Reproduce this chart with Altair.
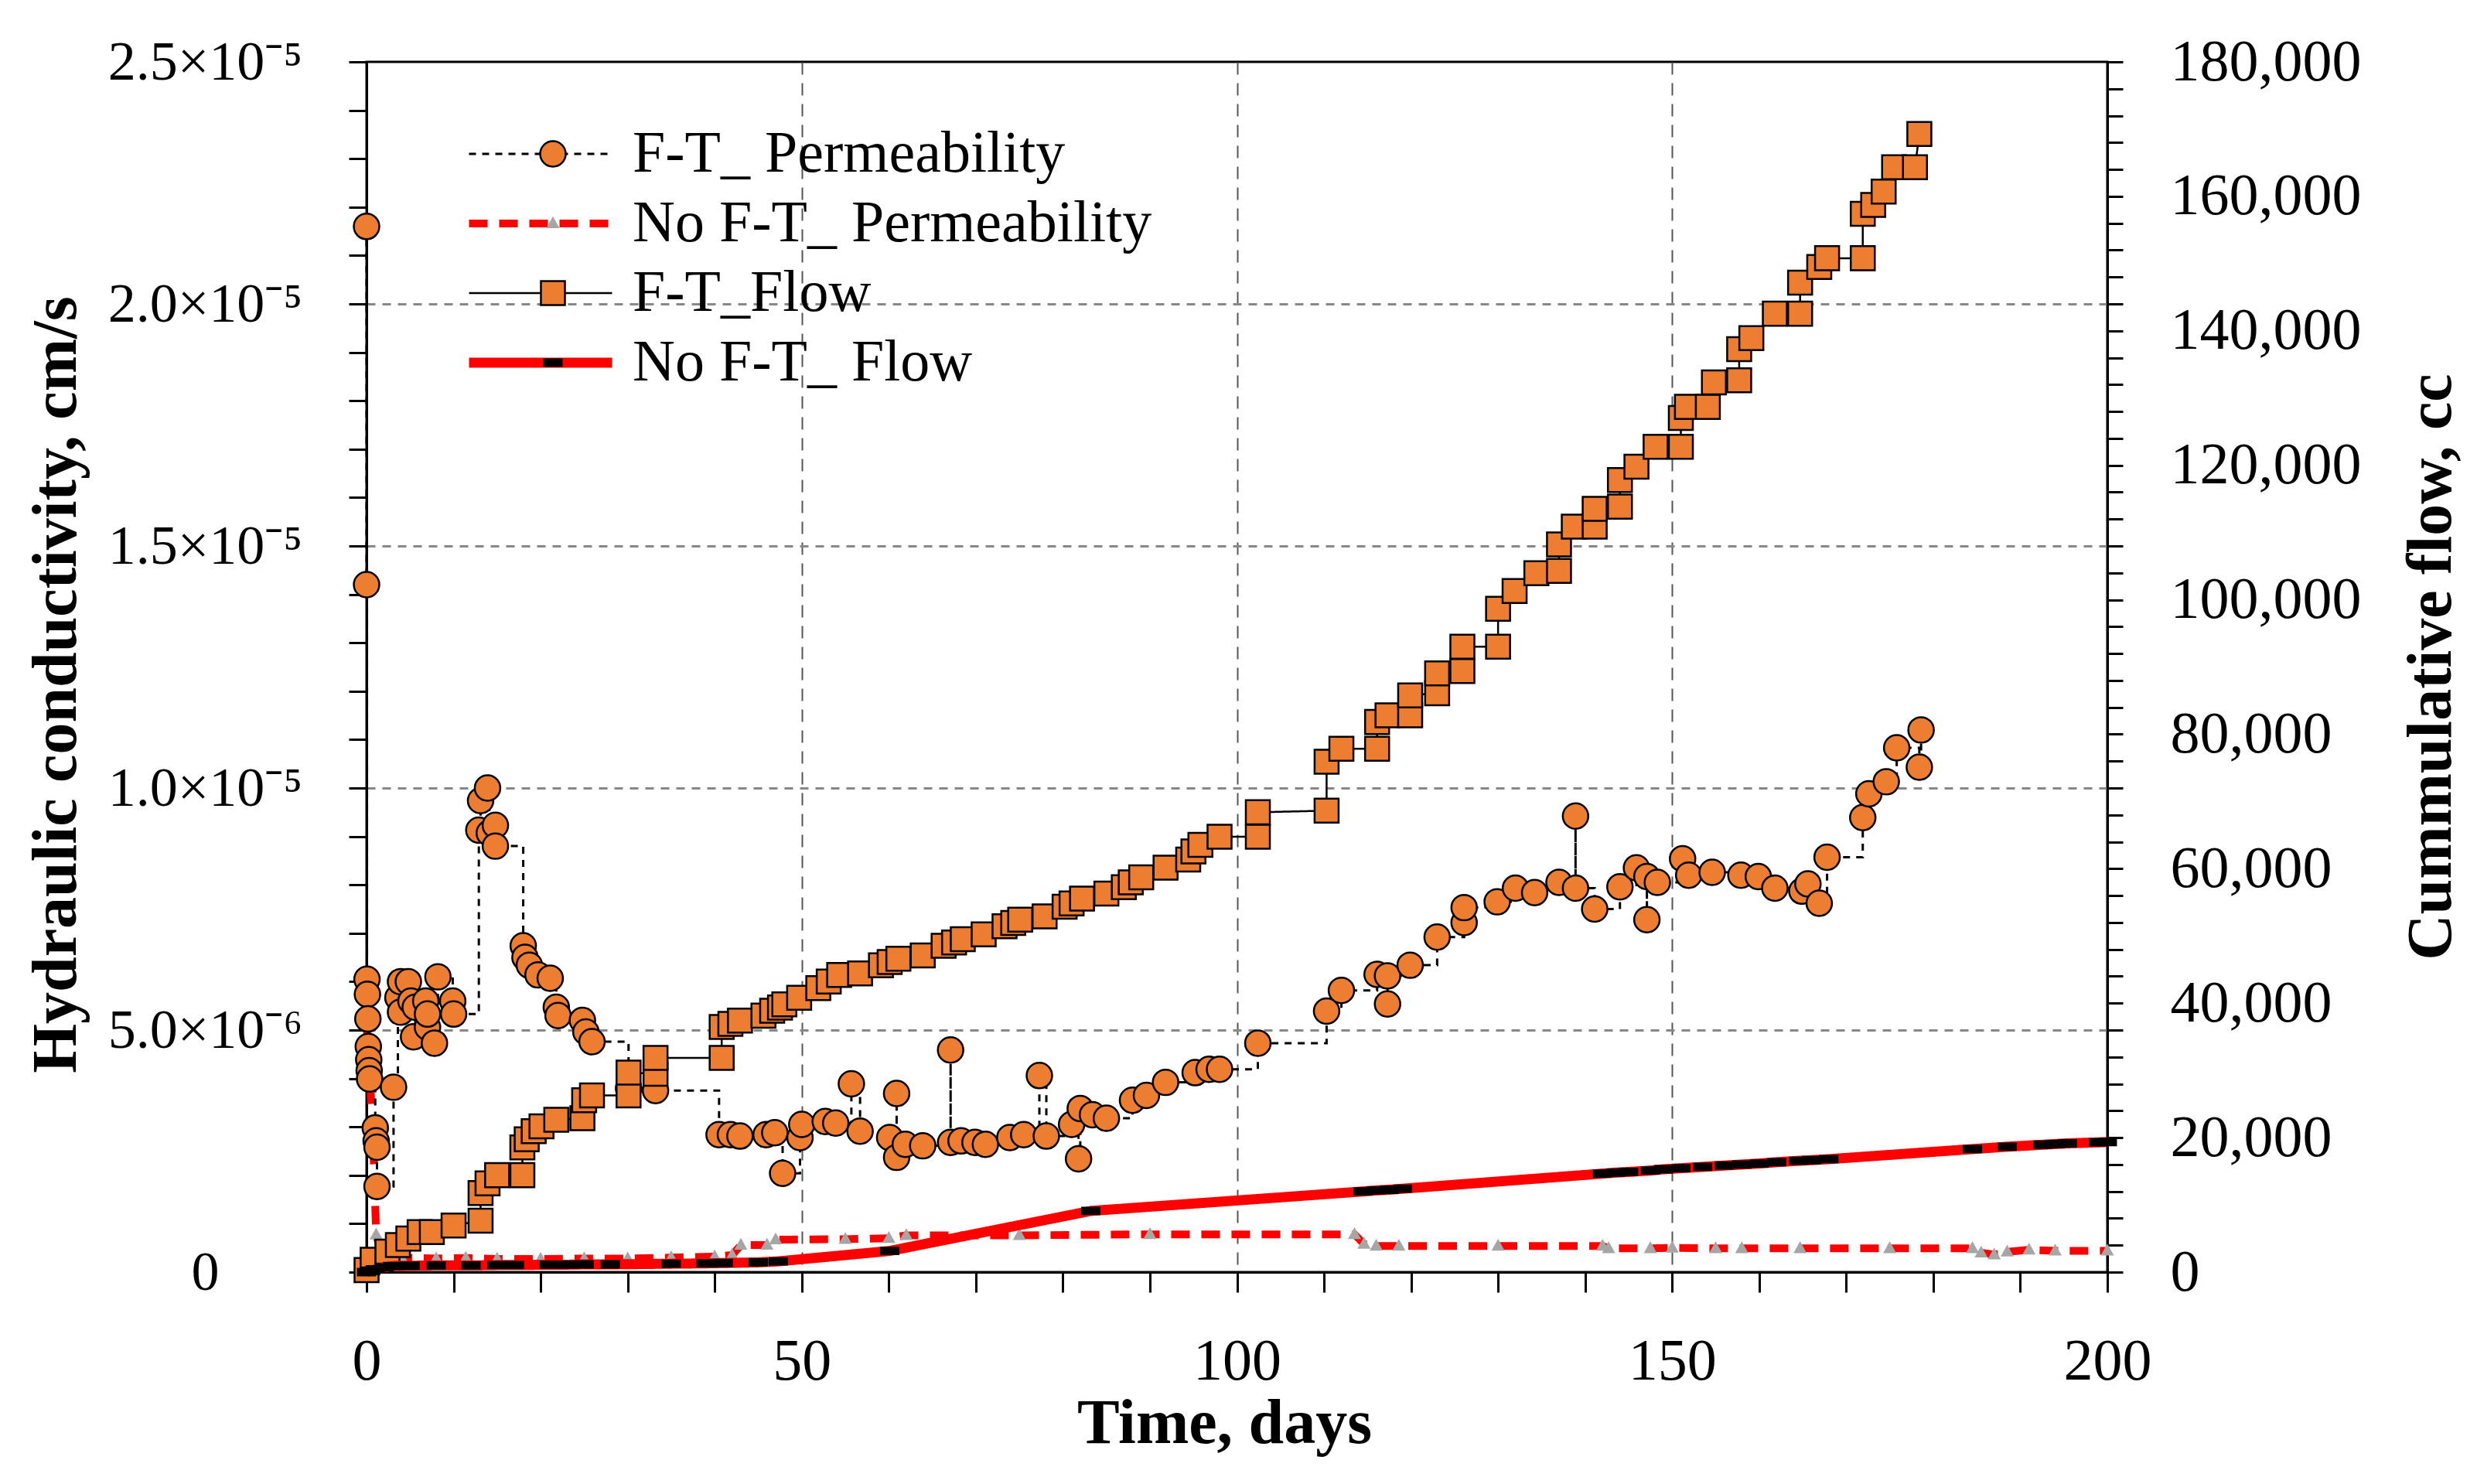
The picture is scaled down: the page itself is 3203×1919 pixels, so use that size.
import altair as alt
import pandas as pd

# F-T permeability: day, hydraulic conductivity (x1e-6 cm/s)
ft_perm_day = [0.0, 0.0, 0.05, 0.1, 0.15, 0.2, 0.25, 0.3, 0.35, 1.0, 1.1, 1.2, 1.2, 3.1, 3.6, 3.9, 3.9,
               4.8, 5.1, 5.4, 5.6, 6.8, 7.0, 7.0, 7.8, 8.2, 9.9, 10.0, 12.9, 13.1, 13.9, 14.1, 14.8, 14.8,
               18.0, 18.2, 18.7, 19.7, 21.1, 21.8, 22.0, 24.8, 25.2, 25.9, 30.1, 33.2, 40.5, 41.8, 42.9,
               45.9, 46.9, 47.8, 49.8, 50.0, 52.7, 53.9, 55.7, 56.7, 60.1, 60.9, 60.9, 61.9, 63.9, 67.1,
               67.1, 68.3, 69.9, 71.1, 73.9, 75.5, 77.3, 78.1, 81.0, 81.8, 82.0, 83.4, 85.0, 88.0, 89.6,
               91.8, 95.2, 96.8, 98.0, 102.4, 110.3, 112.0, 116.1, 117.3, 117.3, 119.9, 123.0, 126.1,
               126.1, 129.9, 132.0, 134.2, 137.0, 138.9, 138.9, 141.1, 144.0, 145.9, 147.1, 147.1, 148.3,
               151.2, 151.9, 154.6, 157.9, 159.9, 161.8, 164.9, 165.6, 166.9, 167.8, 171.9, 172.6, 174.6,
               175.8, 178.4, 178.6]
ft_perm_k = [21.6, 14.2, 6.05, 5.74, 5.23, 4.66, 4.39, 4.16, 3.99, 2.98, 2.71, 2.58, 1.77, 3.82, 5.67,
             6.0, 5.37, 6.0, 5.6, 4.86, 5.47, 5.6, 5.06, 5.33, 4.73, 6.1, 5.6, 5.33, 9.13, 9.74, 10.0,
             9.07, 9.23, 8.8, 6.74, 6.5, 6.34, 6.14, 6.07, 5.47, 5.3, 5.2, 4.96, 4.76, 3.8, 3.75, 2.84,
             2.84, 2.81, 2.84, 2.88, 2.04, 2.78, 3.05, 3.11, 3.08, 3.89, 2.91, 2.78, 3.69, 2.37, 2.64,
             2.61, 4.59, 2.68, 2.71, 2.68, 2.64, 2.78, 2.84, 4.06, 2.81, 3.05, 2.34, 3.38, 3.25, 3.18,
             3.55, 3.65, 3.92, 4.12, 4.19, 4.19, 4.73, 5.39, 5.82, 6.15, 5.54, 6.12, 6.34, 6.92, 7.22,
             7.53, 7.65, 7.93, 7.84, 8.05, 9.42, 7.93, 7.5, 7.96, 8.35, 7.28, 8.17, 8.05, 8.54, 8.2,
             8.26, 8.2, 8.17, 7.93, 7.87, 8.02, 7.62, 8.57, 9.39, 9.88, 10.13, 10.83, 10.43, 11.2]

# No F-T permeability: day, hydraulic conductivity (x1e-6 cm/s)
noft_perm_day = [0.0, 0.4, 0.8, 1.1, 1.6, 2.5, 4.0, 8.0, 11.4, 15.0, 20.0, 25.0, 30.0, 35.0, 40.0, 42.0,
                 43.0, 46.0, 47.0, 55.0, 60.0, 62.0, 75.0, 90.0, 113.5, 114.6, 116.0, 118.6, 130.0,
                 142.0, 142.7, 147.5, 150.0, 155.0, 158.0, 164.7, 175.0, 184.5, 185.5, 187.0, 188.5,
                 191.0, 194.0, 200.0]
noft_perm_k = [5.1, 4.0, 2.5, 0.77, 0.45, 0.32, 0.3, 0.28, 0.29, 0.27, 0.27, 0.28, 0.28, 0.3, 0.32, 0.35,
               0.56, 0.56, 0.67, 0.68, 0.7, 0.76, 0.76, 0.78, 0.78, 0.58, 0.54, 0.54, 0.54, 0.54, 0.49,
               0.49, 0.5, 0.49, 0.49, 0.49, 0.49, 0.49, 0.4, 0.36, 0.42, 0.46, 0.44, 0.44]

# F-T cumulative flow: day, cc
ft_flow_day = [0.0, 0.7, 2.4, 3.6, 4.8, 6.1, 7.5, 10.0, 13.1, 13.1, 13.9, 15.0, 17.9, 17.9, 18.4, 19.2,
               20.1, 21.8, 24.8, 25.0, 25.9, 30.1, 30.1, 33.2, 33.2, 40.8, 40.8, 41.8, 42.9, 45.6, 46.6,
               47.5, 48.0, 49.7, 51.9, 53.1, 54.3, 56.7, 59.1, 60.1, 61.1, 63.9, 66.3, 67.5, 68.5, 70.9,
               73.3, 74.3, 75.1, 77.9, 80.2, 81.0, 82.2, 85.0, 87.0, 87.8, 89.0, 91.8, 94.4, 95.0, 95.8,
               98.0, 102.4, 102.4, 110.3, 110.3, 112.0, 116.1, 116.1, 117.3, 119.9, 119.9, 123.0, 123.0,
               125.9, 125.9, 130.0, 130.0, 131.9, 134.4, 137.0, 137.0, 138.7, 141.1, 141.1, 144.0, 144.0,
               145.9, 148.1, 151.0, 151.0, 151.7, 154.1, 154.8, 157.7, 157.7, 159.1, 161.8, 164.7, 164.7,
               166.9, 167.8, 171.9, 171.9, 173.1, 174.3, 175.5, 177.9, 178.4]
ft_flow_cc = [300, 1840, 3050, 4020, 4990, 5950, 5950, 6920, 7650, 11760, 13210, 14420, 14420, 18540,
              19750, 20960, 21680, 22650, 22890, 25560, 26280, 26280, 29670, 29500, 31850, 31850, 36450,
              36930, 37410, 38140, 38870, 39350, 39830, 40800, 42250, 43220, 44190, 44430, 45640, 46120,
              46610, 47090, 48540, 49030, 49510, 50240, 51450, 51930, 52420, 52900, 54350, 54840, 55560,
              56290, 57260, 57980, 58710, 60160, 61370, 62580, 63550, 64760, 64760, 68390, 68630, 75900,
              77840, 77840, 81820, 82800, 82800, 85780, 86100, 89060, 89390, 93020, 93020, 98660, 101300,
              103950, 104280, 108240, 110880, 110880, 113520, 113850, 117800, 119780, 122750, 122750,
              127040, 128690, 128690, 132320, 132650, 137270, 138920, 142550, 142550, 147170, 149480,
              150800, 150800, 157400, 158720, 160700, 164330, 164330, 169280]

# No F-T cumulative flow: day, cc
noft_flow_day = [0.0, 0.5, 1.0, 2.0, 3.0, 5.0, 8.0, 12.0, 15.0, 17.0, 21.0, 23.0, 25.0, 28.0, 35.0, 39.0,
                 41.0, 45.0, 47.3, 60.1, 83.2, 114.5, 116.0, 117.5, 119.0, 142.0, 143.5, 145.0, 147.5,
                 149.0, 151.0, 153.5, 156.0, 158.0, 160.0, 162.0, 164.5, 166.0, 168.0, 184.5, 188.5,
                 192.6, 194.0, 195.4, 199.0, 200.0]
noft_flow_cc = [0, 200, 400, 700, 900, 950, 1000, 1000, 1050, 1050, 1100, 1100, 1150, 1150, 1250, 1300,
                1350, 1450, 1600, 3150, 9100, 12000, 12150, 12250, 12400, 14650, 14800, 14900, 15100,
                15300, 15450, 15650, 15850, 16000, 16150, 16350, 16550, 16650, 16800, 18300, 18650,
                18950, 19050, 19150, 19300, 19350]

names = ["F-T_ Permeability", "No F-T_ Permeability", "F-T_Flow", "No F-T_ Flow"]
marker_keys = ["m1", "m2", "m3", "m4"]  # separate domain so the marker legend is not merged
line_colors = ["black", "red", "black", "red"]
line_dashes = [[9, 8], [24, 15], [1, 0], [1, 0]]
line_widths = [3, 10, 2.5, 13]

ORANGE = "#ED7D31"
marker_shapes = [
    "M1.03,0A1.03,1.03,0,1,1,-1.03,0A1.03,1.03,0,1,1,1.03,0Z",      # circle
    "M0,-0.42L0.4,0.3L-0.4,0.3Z",                                     # small triangle
    "M-0.97,-0.97L0.97,-0.97L0.97,0.97L-0.97,0.97Z",                  # square
    "M-0.7,-0.26L0.7,-0.26L0.7,0.26L-0.7,0.26Z",                      # short dash
]
marker_fills = [ORANGE, "#A6A6A6", ORANGE, "black"]
marker_strokes = ["black", "#A6A6A6", "black", "black"]

left_major = [0, 5e-6, 1e-5, 1.5e-5, 2e-5, 2.5e-5]
left_labels = ["0", "5.0×10⁻⁶", "1.0×10⁻⁵", "1.5×10⁻⁵", "2.0×10⁻⁵", "2.5×10⁻⁵"]

FONT = "Liberation Serif"


def frame(days, values, field, n, scale=1.0):
    return pd.DataFrame({
        "day": days,
        field: [v * scale for v in values],
        "series": names[n],
        "marker": marker_keys[n],
        "i": list(range(len(days))),
    })


ft_perm = frame(ft_perm_day, ft_perm_k, "k", 0, 1e-6)
noft_perm = frame(noft_perm_day, noft_perm_k, "k", 1, 1e-6)
ft_flow = frame(ft_flow_day, ft_flow_cc, "flow", 2)
noft_flow = frame(noft_flow_day, noft_flow_cc, "flow", 3)


# region Legends: line legend and marker legend drawn on top of each other

legend_common = dict(
    title=None,
    orient="none",
    legendY=82,
    padding=0,
    clipHeight=74,
    rowPadding=14,
    labelFont=FONT,
    labelFontSize=76,
    labelLimit=2000,
)
line_legend = alt.Legend(
    legendX=126, symbolType="stroke", symbolSize=185 * 185, labelOffset=20,
    labelColor="black",
    labelExpr=f"datum.label == '{names[0]}' ? '\u00a0' + datum.label : datum.label",
    **legend_common)
marker_legend = alt.Legend(
    legendX=203, symbolSize=1024, symbolStrokeWidth=2.5, labelOffset=20,
    labelExpr="''", **legend_common)

color_enc = alt.Color("series:N", scale=alt.Scale(domain=names, range=line_colors), legend=line_legend)
dash_enc = alt.StrokeDash("series:N", scale=alt.Scale(domain=names, range=line_dashes), legend=line_legend)
width_enc = alt.StrokeWidth("series:N", scale=alt.Scale(type="ordinal", domain=names, range=line_widths),
                            legend=line_legend)

shape_enc = alt.Shape("marker:N", scale=alt.Scale(domain=marker_keys, range=marker_shapes),
                      legend=marker_legend)
fill_enc = alt.Fill("marker:N", scale=alt.Scale(domain=marker_keys, range=marker_fills),
                    legend=marker_legend)
stroke_enc = alt.Stroke("marker:N", scale=alt.Scale(domain=marker_keys, range=marker_strokes),
                        legend=marker_legend)

# endregion


# region Axes

left_expr = "''"
for v, t in reversed(list(zip(left_major, left_labels))):
    left_expr = f"abs(datum.value - {v}) < 1e-10 ? '{t}' : ({left_expr})"

axis_common = dict(
    labelFont=FONT,
    labelColor="black",
    labelOverlap=False,
    labelLimit=1000,
    titleFont=FONT,
    titleFontWeight="bold",
    titleFontSize=82,
    titleColor="black",
    titleLimit=3000,
    domainColor="black",
    domainWidth=3,
    tickColor="black",
    tickWidth=3,
)

x_axis = alt.Axis(
    values=list(range(0, 201, 10)),
    labelExpr="datum.value % 50 == 0 ? datum.label : ''",
    labelFontSize=76,
    labelFlush=False,
    labelPadding=52,
    tickSize=26,
    grid=True,
    gridColor="#555555",
    gridWidth=2,
    gridDash=[16, 11],
    gridOpacity={"condition": {"test": "datum.value % 50 == 0 && datum.value > 0 && datum.value < 200",
                               "value": 1}, "value": 0},
    titleX=1109,
    titleY=220,
    titleAlign="center",
    titleBaseline="alphabetic",
    **axis_common,
)

left_axis = alt.Axis(
    values=[i * 1e-6 for i in range(26)],
    labelExpr=left_expr,
    labelFontSize=72,
    labelAlign="center",
    labelPadding=186,
    tickSize=23,
    grid=True,
    gridColor="#888888",
    gridWidth=3,
    gridDash=[11, 9],
    gridOpacity={"condition": {"test": "abs(datum.value / 5e-6 - round(datum.value / 5e-6)) < 0.001 && "
                                       "datum.value > 1e-9 && datum.value < 2.4e-5",
                               "value": 1}, "value": 0},
    titleAngle=270,
    titleX=-377,
    titleY=805,
    titleAlign="center",
    titleBaseline="alphabetic",
    **axis_common,
)

right_axis = alt.Axis(
    orient="right",
    values=list(range(0, 180001, 4000)),
    labelExpr="datum.value % 20000 == 0 ? format(datum.value, ',') : ''",
    labelFontSize=76,
    labelAlign="left",
    labelPadding=61,
    tickSize=20,
    grid=False,
    titleAngle=270,
    titleX=443,
    titleY=782,
    titleAlign="center",
    titleBaseline="alphabetic",
    **axis_common,
)

x_enc = alt.X("day:Q", scale=alt.Scale(domain=[0, 200], nice=False), axis=x_axis, title="Time, days")
k_enc = alt.Y("k:Q", scale=alt.Scale(domain=[0, 2.5e-5], nice=False), axis=left_axis,
              title="Hydraulic conductivity, cm/s")
flow_enc = alt.Y("flow:Q", scale=alt.Scale(domain=[0, 180000], nice=False), axis=right_axis,
                 title="Cummulative flow, cc")

# endregion


# region Layers


def line(df, y, **mark):
    return alt.Chart(df).mark_line(**mark).encode(
        x_enc, y, color_enc, dash_enc, width_enc, order="i:Q")


def markers(df, y):
    return alt.Chart(df).mark_point(filled=True, size=1024, strokeWidth=2.5, opacity=1).encode(
        x_enc, y, shape_enc, fill_enc, stroke_enc)


left = alt.layer(
    line(noft_perm, k_enc),
    markers(noft_perm, k_enc),
    line(ft_perm, k_enc, interpolate="step-after"),
    markers(ft_perm, k_enc),
)
right = alt.layer(
    line(ft_flow, flow_enc),
    markers(ft_flow, flow_enc),
    line(noft_flow, flow_enc),
    markers(noft_flow, flow_enc),
)

chart = (
    alt.layer(left, right)
    .resolve_scale(y="independent")
    .properties(
        width=2251,
        height=1565,
        autosize=alt.AutoSizeParams(type="none"),
        padding={"left": 466, "top": 72, "right": 460, "bottom": 250},
        background="white",
    )
    .configure_view(stroke="black", strokeWidth=3)
)

# endregion

chart.save("out.html", embed_options={"renderer": "svg", "actions": False})
